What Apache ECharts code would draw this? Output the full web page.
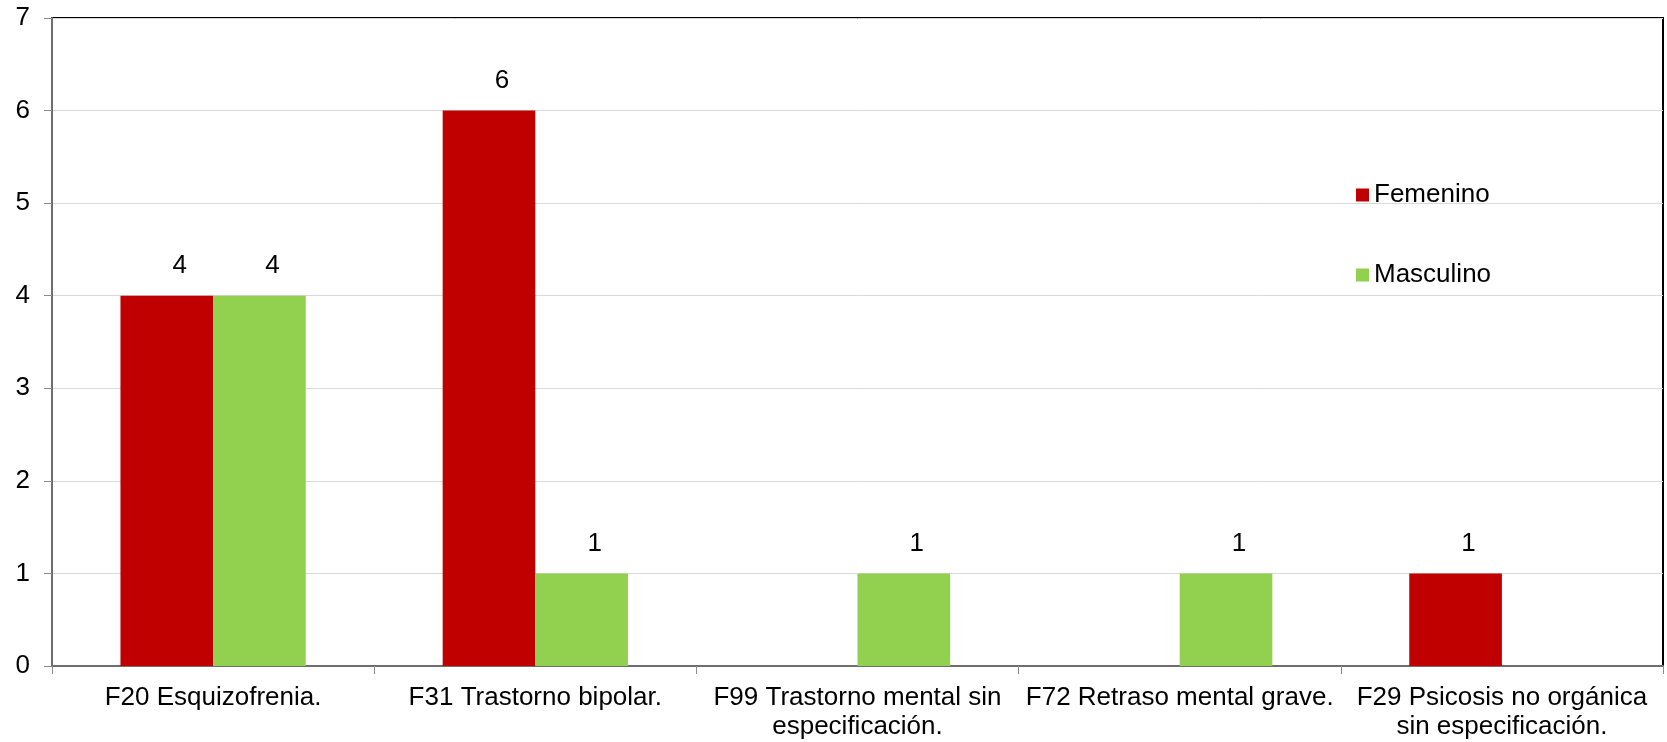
<!DOCTYPE HTML>
<html>
<head>
    <meta charset="UTF-8">
    <title>Diagnosticos por sexo</title>
    <style>
        body{ margin:0; background-color:#ffffff; }
        #main{ width:1667px; height:742px; }
    </style>
    <script src="https://cdn.jsdelivr.net/npm/echarts@6/dist/echarts.min.js"></script>
</head>
<body>
<div id="main"></div>
<script type="text/javascript">
    // datos
    var categorias = [
        'F20 Esquizofrenia.',
        'F31 Trastorno bipolar.',
        'F99 Trastorno mental sin\nespecificación.',
        'F72 Retraso mental grave.',
        'F29 Psicosis no orgánica\nsin especificación.'
    ];
    var femenino = [4, 6, 0, 0, 1];
    var masculino = [4, 1, 1, 1, 0];
    var series_nombres = ['Femenino', 'Masculino'];
    var ejeY = [0, 7, 1]; // min, max, intervalo

    var fuente = '"Liberation Sans", Arial, sans-serif';
    var myChart = echarts.init(document.getElementById('main'));

    var etiqueta = {
        show: true,
        position: 'top',
        distance: 17,
        offset: [13, 0],
        color: '#000',
        fontSize: 26,
        fontFamily: fuente,
        formatter: function(p){ return p.value === 0 ? '' : p.value; }
    };

    var option = {
        backgroundColor: '#ffffff',
        animation: false,
        textStyle: { fontFamily: fuente },
        grid: {
            left: 52, right: 4, top: 18, bottom: 76,
            show: true,
            borderColor: '#000',
            borderWidth: 2
        },
        legend: {
            orient: 'vertical',
            left: 1351,
            top: 177,
            itemWidth: 13,
            itemHeight: 13,
            itemGap: 54,
            icon: 'rect',
            textStyle: { fontSize: 26, color: '#000', fontFamily: fuente },
            data: series_nombres
        },
        xAxis: {
            type: 'category',
            data: categorias,
            axisLine: { lineStyle: { color: '#6e6e6e', width: 2 } },
            axisTick: { show: true, length: 8, lineStyle: { color: '#8c8c8c' } },
            axisLabel: {
                interval: 0,
                margin: 17,
                fontSize: 26,
                lineHeight: 29,
                color: '#000',
                fontFamily: fuente
            }
        },
        yAxis: {
            type: 'value',
            min: ejeY[0],
            max: ejeY[1],
            interval: ejeY[2],
            axisLine: { show: true, lineStyle: { color: '#6e6e6e', width: 2 } },
            axisTick: { show: true, length: 8, lineStyle: { color: '#8c8c8c' } },
            axisLabel: { margin: 22, fontSize: 26, color: '#000', fontFamily: fuente },
            splitLine: { lineStyle: { color: '#d9d9d9', width: 1 } }
        },
        series: [
            {
                name: series_nombres[0],
                type: 'bar',
                barGap: '0%',
                barCategoryGap: '42.5%',
                itemStyle: { color: '#C00000' },
                label: etiqueta,
                data: femenino
            },
            {
                name: series_nombres[1],
                type: 'bar',
                itemStyle: { color: '#92D050' },
                label: etiqueta,
                data: masculino
            }
        ]
    };
    myChart.setOption(option);
</script>
</body>
</html>
